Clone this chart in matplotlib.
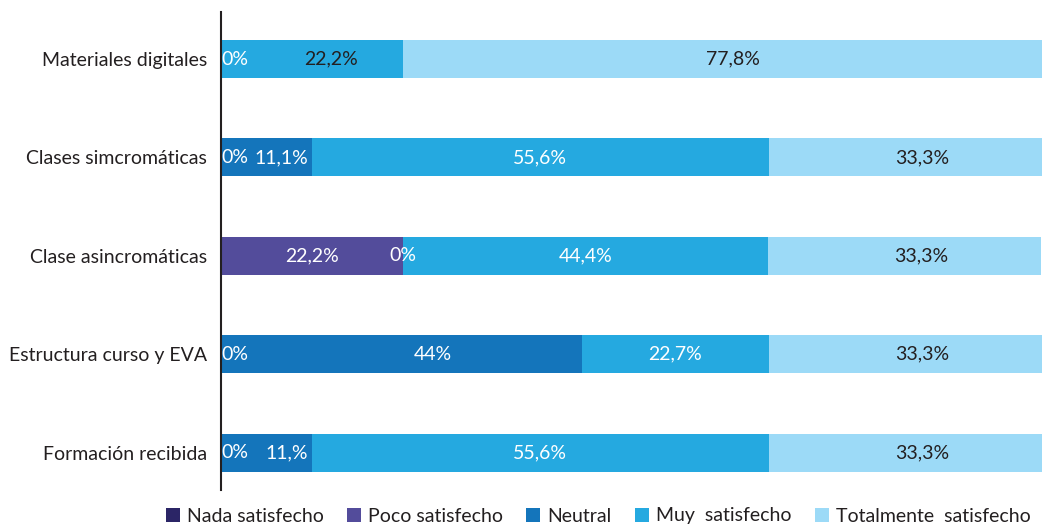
import matplotlib
matplotlib.use("Agg")
import matplotlib.pyplot as plt
from matplotlib.patches import Patch
import numpy as np

plt.rcParams['font.family'] = ['Lato', 'DejaVu Sans']

categories = ["Materiales digitales", "Clases simcromáticas", "Clase asincromáticas",
              "Estructura curso y EVA", "Formación recibida"]
series_names = ["Nada satisfecho", "Poco satisfecho", "Neutral", "Muy  satisfecho", "Totalmente  satisfecho"]

nada = [0, 0, 0, 0, 0]
poco = [0, 0, 22.2, 0, 0]
neutral = [0, 11.1, 0, 44, 11.1]
muy = [22.2, 55.6, 44.4, 22.7, 55.6]
total = [77.8, 33.3, 33.3, 33.3, 33.3]

nada_labels = ["0%", "0%", "", "0%", "0%"]
poco_labels = ["", "", "22,2%", "", ""]
neutral_labels = ["", "11,1%", "0%", "44%", "11,%"]
muy_labels = ["22,2%", "55,6%", "44,4%", "22,7%", "55,6%"]
total_labels = ["77,8%", "33,3%", "33,3%", "33,3%", "33,3%"]

# --- styling / layout (not data) ---
colors = ["#2b2566", "#534c9b", "#1475bb", "#25a9e0", "#9cdaf7"]
dark = "#231f20"
label_colors = [
    ["white"] * 5,
    ["white"] * 5,
    ["white"] * 5,
    [dark, "white", "white", "white", "white"],
    [dark] * 5,
]
# horizontal nudges of the value labels (in axis units), per series / row
label_dx = [
    [0, 0, 0, 0, 0],
    [0, 0, 0, 0, 0],
    [0, 0, 0, 3.8, 0],
    [2.3, 0, 0, 0, 0],
    [1.2, 2.0, 2.0, 2.0, 2.0],
]

values = [nada, poco, neutral, muy, total]
labels = [nada_labels, poco_labels, neutral_labels, muy_labels, total_labels]

fig = plt.figure(figsize=(10.42, 5.26), dpi=100)
ax = fig.add_axes([221/1042, 1 - 490/526, 1 - 221/1042, (490 - 12)/526])

y = np.arange(len(categories))
left = np.zeros(len(categories))
fs = 14
for s in range(5):
    vals = np.array(values[s], dtype=float)
    ax.barh(y, vals, left=left, height=0.386, color=colors[s], label=series_names[s])
    for i in range(len(categories)):
        txt = labels[s][i]
        if not txt:
            continue
        if vals[i] == 0 and left[i] == 0:
            ax.text(left[i] + 0.1, y[i], txt, ha='left', va='center',
                    color=label_colors[s][i], fontsize=fs)
        elif 0 < vals[i] < 15:
            ax.text(left[i] + vals[i] - 0.5, y[i], txt, ha='right', va='center',
                    color=label_colors[s][i], fontsize=fs)
        else:
            ax.text(left[i] + vals[i] / 2 + label_dx[s][i], y[i], txt, ha='center', va='center',
                    color=label_colors[s][i], fontsize=fs)
    left = left + vals

ax.set_xlim(0, 100)
ax.set_ylim(4.38, -0.478)
ax.set_yticks(y)
ax.set_yticklabels(categories, fontsize=fs, color=dark)
ax.tick_params(axis='y', length=0, pad=10)
ax.set_xticks([])
for sp in ["top", "right", "bottom"]:
    ax.spines[sp].set_visible(False)
ax.spines["left"].set_color(dark)
ax.spines["left"].set_linewidth(1.5)
ax.spines["left"].set_zorder(5)

handles = [Patch(facecolor=c) for c in colors]
fig.legend(handles, series_names, loc='center', bbox_to_anchor=(598/1042, 1 - 516/526),
           ncol=5, frameon=False, fontsize=fs, handlelength=0.72, handleheight=0.72,
           handletextpad=0.36, columnspacing=1.2, labelcolor=dark,
           borderpad=0, borderaxespad=0)

fig.savefig("out.png", dpi=100)
